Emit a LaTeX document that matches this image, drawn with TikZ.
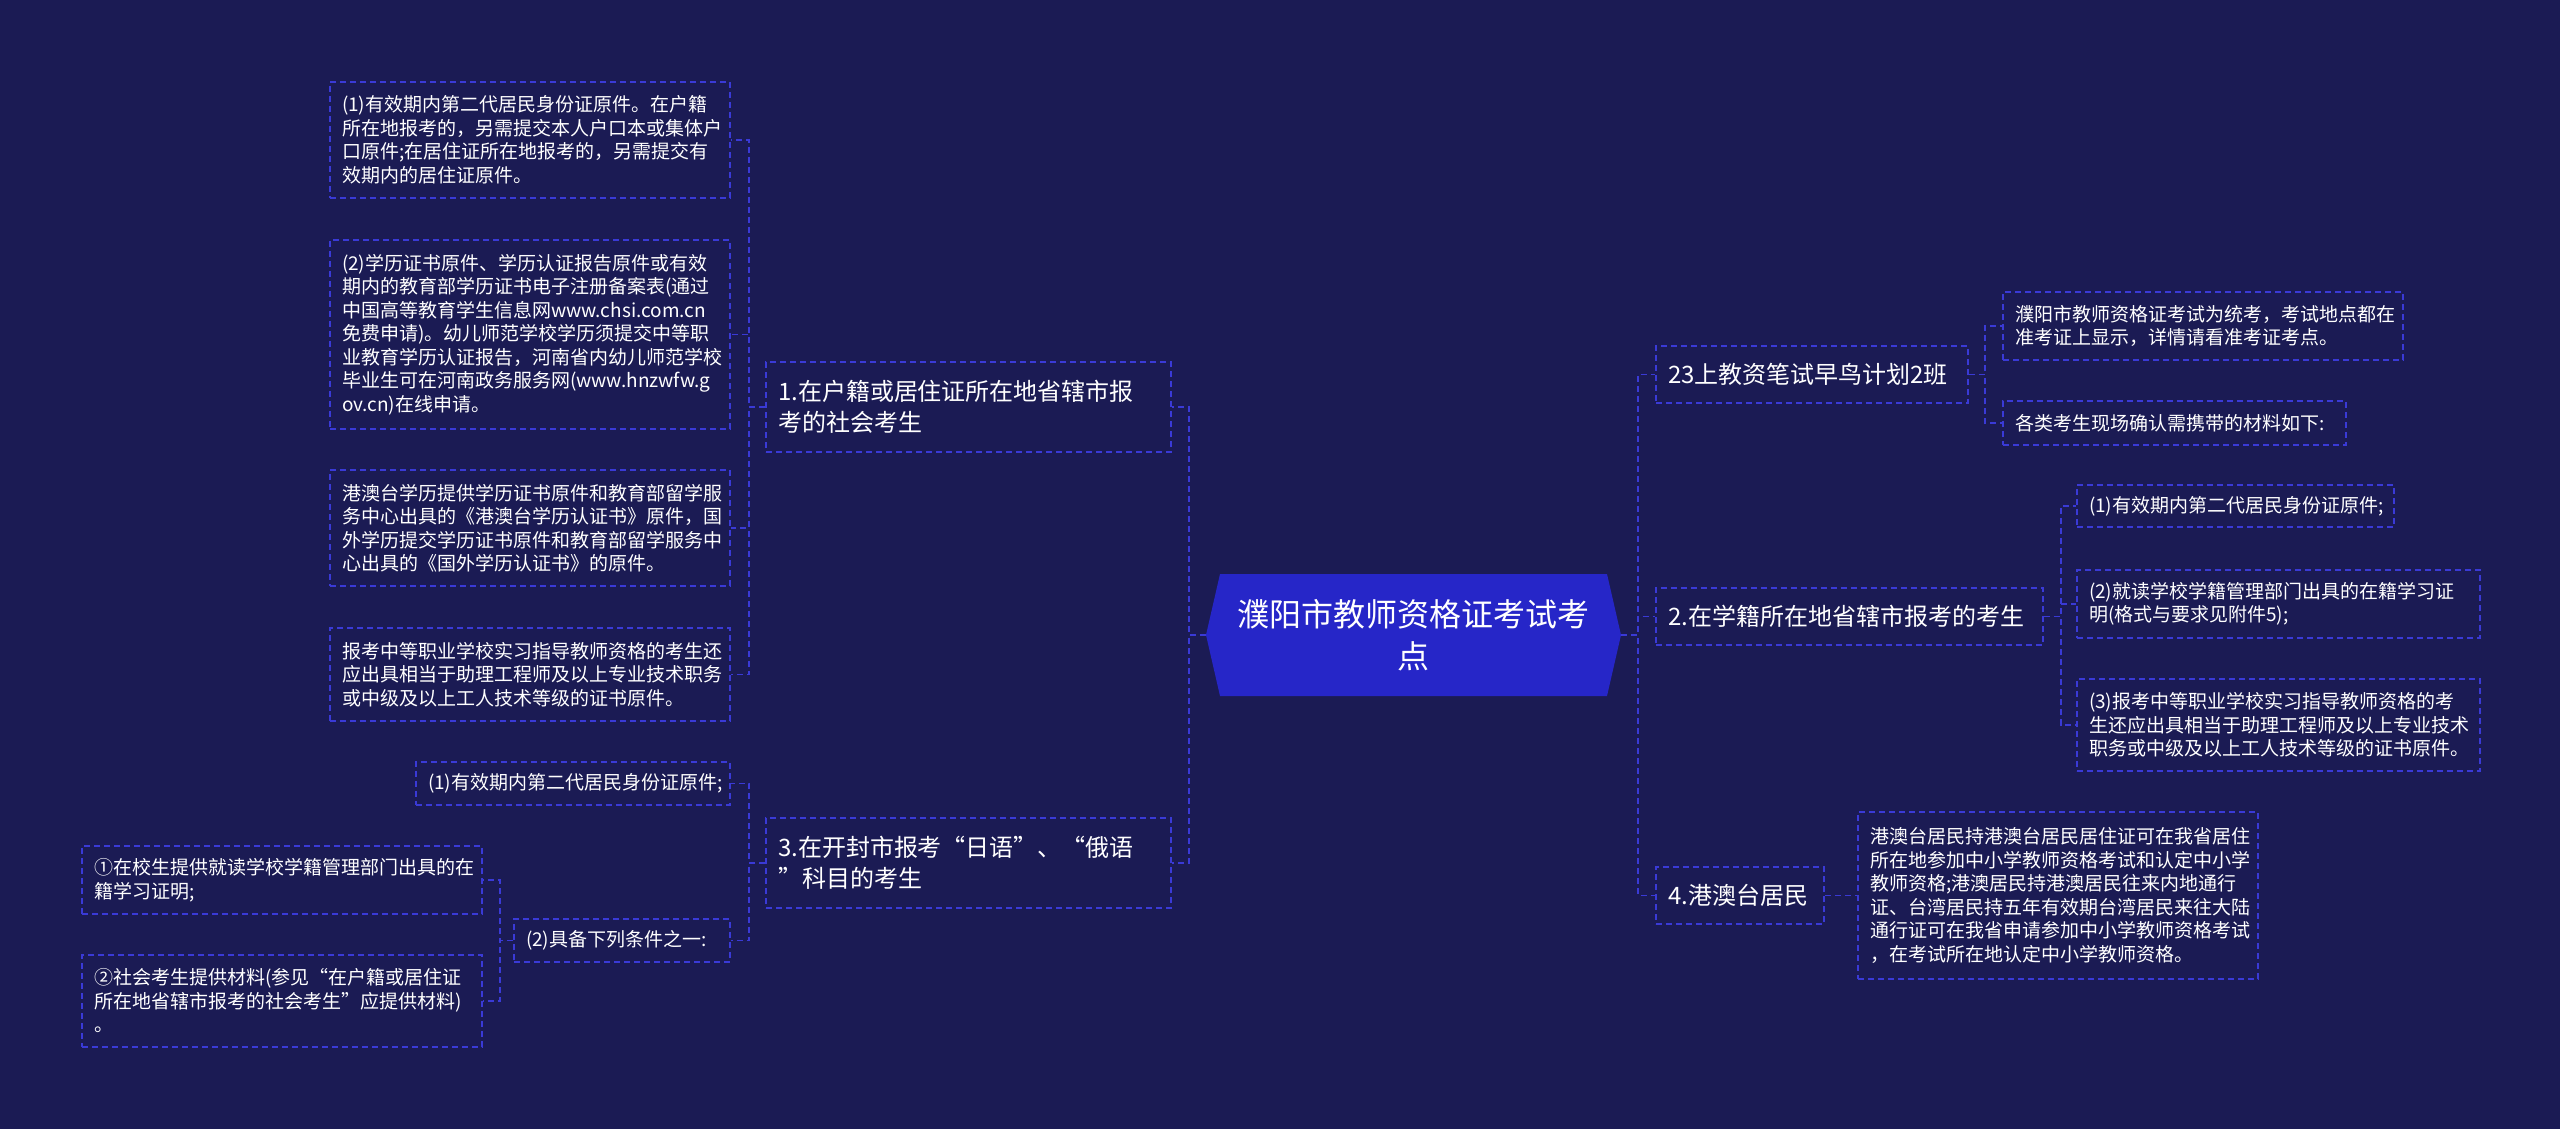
\documentclass[tikz,border=0pt]{standalone}
\usepackage{fontspec}
\setmainfont{Noto Sans CJK SC}
\usetikzlibrary{calc}
\definecolor{bgc}{RGB}{27,27,84}
\definecolor{centerc}{RGB}{38,38,200}
\definecolor{linec}{RGB}{58,58,214}
\begin{document}
\begin{tikzpicture}[x=1pt,y=-1pt,
  dashln/.style={draw=linec, line width=1.6pt, dash pattern=on 6pt off 4pt},
  boxbase/.style={dashln, text=white, inner sep=0pt, align=left},
  leaf/.style={boxbase, font=\fontsize{19}{23.5}\selectfont},
  branch/.style={boxbase, font=\fontsize{24}{31}\selectfont},
  conn/.style={dashln},
  bx/.style n args={4}{at={({(#1+#3)/2},{(#2+#4)/2})}, minimum width={#3-#1}, minimum height={#4-#2}, text width={#3-#1-24}}
]
\fill[bgc] (0,0) rectangle (2560,1129);
\useasboundingbox (0,0) rectangle (2560,1129);

% centre
\fill[centerc] (1206,635) -- (1220,574) -- (1607,574) -- (1621,635) -- (1607,696) -- (1220,696) -- cycle;
\node[text=white, inner sep=0pt, minimum width=415pt, minimum height=122pt, align=center, font=\fontsize{32}{42}\selectfont] (C) at (1413.5,635) {濮阳市教师资格证考试考\\点};

% left branches
\node[branch, bx={766}{362}{1171}{452}] (L1) {1.在户籍或居住证所在地省辖市报\\考的社会考生};
\node[branch, bx={766}{818}{1171}{908}] (L3) {3.在开封市报考“日语”、“俄语\\”科目的考生};

\node[leaf, bx={330}{82}{730}{198}] (a) {(1)有效期内第二代居民身份证原件。在户籍\\所在地报考的，另需提交本人户口本或集体户\\口原件;在居住证所在地报考的，另需提交有\\效期内的居住证原件。};
\node[leaf, bx={330}{240}{730}{429}] (b) {(2)学历证书原件、学历认证报告原件或有效\\期内的教育部学历证书电子注册备案表(通过\\中国高等教育学生信息网www.chsi.com.cn\\免费申请)。幼儿师范学校学历须提交中等职\\业教育学历认证报告，河南省内幼儿师范学校\\毕业生可在河南政务服务网(www.hnzwfw.g\\ov.cn)在线申请。};
\node[leaf, bx={330}{470}{730}{586}] (c) {港澳台学历提供学历证书原件和教育部留学服\\务中心出具的《港澳台学历认证书》原件，国\\外学历提交学历证书原件和教育部留学服务中\\心出具的《国外学历认证书》的原件。};
\node[leaf, bx={330}{628}{730}{721}] (d) {报考中等职业学校实习指导教师资格的考生还\\应出具相当于助理工程师及以上专业技术职务\\或中级及以上工人技术等级的证书原件。};

\node[leaf, bx={416}{762}{730}{805}] (e) {(1)有效期内第二代居民身份证原件;};
\node[leaf, bx={514}{919}{730}{962}] (f) {(2)具备下列条件之一:};
\node[leaf, bx={82}{846}{482}{914}] (g) {①在校生提供就读学校学籍管理部门出具的在\\籍学习证明;};
\node[leaf, bx={82}{955}{482}{1047}] (h) {②社会考生提供材料(参见“在户籍或居住证\\所在地省辖市报考的社会考生”应提供材料)\\。};

% right branches
\node[branch, bx={1656}{346}{1968}{403}] (R0) {23上教资笔试早鸟计划2班};
\node[branch, bx={1656}{588}{2043}{645}] (R2) {2.在学籍所在地省辖市报考的考生};
\node[branch, bx={1656}{867}{1824}{924}] (R4) {4.港澳台居民};

\node[leaf, bx={2003}{292}{2403}{360}] (r01) {濮阳市教师资格证考试为统考，考试地点都在\\准考证上显示，详情请看准考证考点。};
\node[leaf, bx={2003}{401}{2346}{445}] (r02) {各类考生现场确认需携带的材料如下:};

\node[leaf, bx={2077}{485}{2394}{527}] (r21) {(1)有效期内第二代居民身份证原件;};
\node[leaf, bx={2077}{570}{2480}{638}] (r22) {(2)就读学校学籍管理部门出具的在籍学习证\\明(格式与要求见附件5);};
\node[leaf, bx={2077}{679}{2480}{771}] (r23) {(3)报考中等职业学校实习指导教师资格的考\\生还应出具相当于助理工程师及以上专业技术\\职务或中级及以上工人技术等级的证书原件。};

\node[leaf, bx={1858}{812}{2258}{979}] (r41) {港澳台居民持港澳台居民居住证可在我省居住\\所在地参加中小学教师资格考试和认定中小学\\教师资格;港澳居民持港澳居民往来内地通行\\证、台湾居民持五年有效期台湾居民来往大陆\\通行证可在我省申请参加中小学教师资格考试\\，在考试所在地认定中小学教师资格。};

% trunk coordinates
\coordinate (tR) at (1638,0);
\coordinate (tL) at (1189,0);
\coordinate (tL1) at (749,0);
\coordinate (tF) at (500,0);
\coordinate (tR0) at (1985,0);
\coordinate (tR2) at (2061,0);

% connectors
\foreach \n in {R0,R2,R4} \draw[conn] (C.east) -- (C.east -| tR) |- (\n.west);
\foreach \n in {L1,L3} \draw[conn] (C.west) -- (C.west -| tL) |- (\n.east);
\foreach \n in {a,b,c,d} \draw[conn] (L1.west) -- (L1.west -| tL1) |- (\n.east);
\foreach \n in {e,f} \draw[conn] (L3.west) -- (L3.west -| tL1) |- (\n.east);
\foreach \n in {g,h} \draw[conn] (f.west) -- (f.west -| tF) |- (\n.east);
\foreach \n in {r01,r02} \draw[conn] (R0.east) -- (R0.east -| tR0) |- (\n.west);
\foreach \n in {r21,r22,r23} \draw[conn] (R2.east) -- (R2.east -| tR2) |- (\n.west);
\draw[conn] (R4.east) -- (r41.west);
\end{tikzpicture}
\end{document}
